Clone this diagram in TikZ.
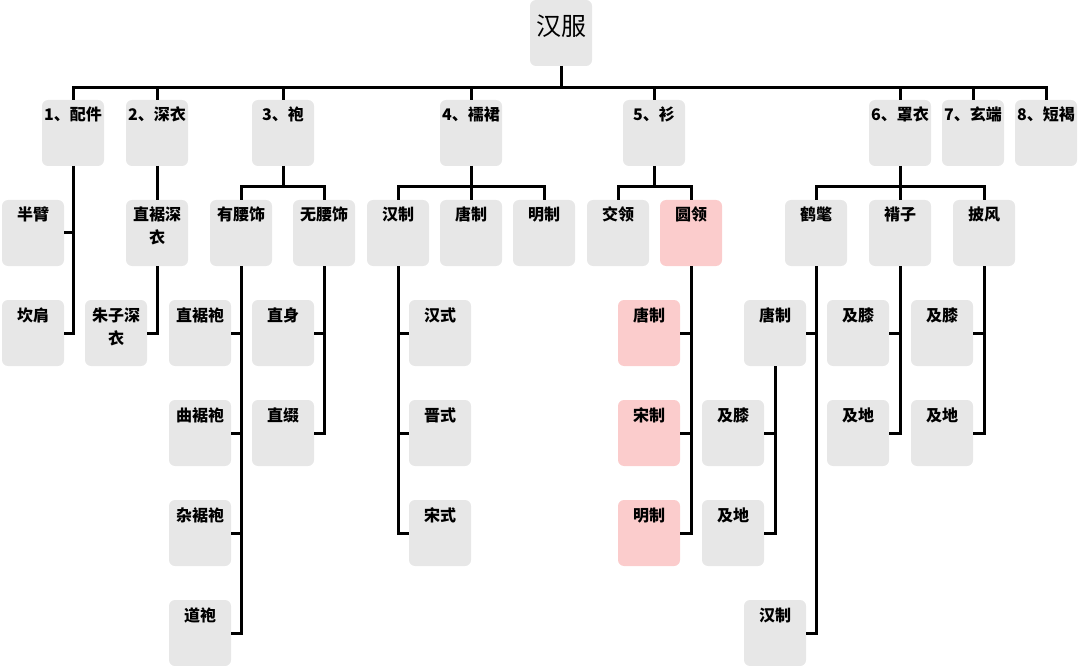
\documentclass[tikz,border=0pt]{standalone}
\usepackage{fontspec}
\setmainfont{Noto Sans CJK SC}
\definecolor{boxgray}{RGB}{231,231,231}
\definecolor{boxpink}{RGB}{251,204,204}
\newcommand\lblfont{\fontsize{16}{23}\selectfont\bfseries}
\newcommand\bx[5][]{\node[box,#1] (#2) at (#3,#4+33) {\parbox[c][66pt][t]{62pt}{\centering\rule{0pt}{21pt}#5}};}
\tikzset{
  box/.style={rectangle, rounded corners=6pt, fill=boxgray, inner sep=0pt, outer sep=0pt,
    minimum width=62pt, minimum height=66pt, font=\lblfont},
  pinkbox/.style={fill=boxpink},
  conn/.style={line width=3pt, line join=miter, draw=black}
}
\begin{document}
\begin{tikzpicture}[x=1pt,y=-1pt]
\useasboundingbox (0,0) rectangle (1080,666);
% root
\node[box, font=\fontsize{25}{30}\selectfont] (root) at (561,33) {\parbox[c][66pt][t]{62pt}{\centering\rule{0pt}{36pt}汉服}};
% level 1
\bx{p1}{73}{100}{1、配件}
\bx{p2}{157}{100}{2、深衣}
\bx{p3}{283}{100}{3、袍}
\bx{p4}{471}{100}{4、襦裙}
\bx{p5}{654}{100}{5、衫}
\bx{p6}{900}{100}{6、罩衣}
\bx{p7}{973}{100}{7、玄端}
\bx{p8}{1046}{100}{8、短褐}
% branch 1
\bx{a1}{33}{200}{半臂}
\bx{a2}{33}{300}{坎肩}
% branch 2
\bx{b1}{157}{200}{直裾深\\衣}
\bx{b2}{116}{300}{朱子深\\衣}
% branch 3
\bx{c1}{241}{200}{有腰饰}
\bx{c2}{324}{200}{无腰饰}
\bx{c11}{200}{300}{直裾袍}
\bx{c12}{200}{400}{曲裾袍}
\bx{c13}{200}{500}{杂裾袍}
\bx{c14}{200}{600}{道袍}
\bx{c21}{283}{300}{直身}
\bx{c22}{283}{400}{直缀}
% branch 4
\bx{d1}{398}{200}{汉制}
\bx{d2}{471}{200}{唐制}
\bx{d3}{544}{200}{明制}
\bx{d11}{440}{300}{汉式}
\bx{d12}{440}{400}{晋式}
\bx{d13}{440}{500}{宋式}
% branch 5
\bx{e1}{618}{200}{交领}
\bx[pinkbox]{e2}{691}{200}{圆领}
\bx[pinkbox]{e21}{649}{300}{唐制}
\bx[pinkbox]{e22}{649}{400}{宋制}
\bx[pinkbox]{e23}{649}{500}{明制}
% branch 6
\bx{f1}{816}{200}{鹤氅}
\bx{f2}{900}{200}{褙子}
\bx{f3}{984}{200}{披风}
\bx{f11}{775}{300}{唐制}
\bx{f12}{775}{600}{汉制}
\bx{f111}{733}{400}{及膝}
\bx{f112}{733}{500}{及地}
\bx{f21}{858}{300}{及膝}
\bx{f22}{858}{400}{及地}
\bx{f31}{942}{300}{及膝}
\bx{f32}{942}{400}{及地}
% buses
\coordinate (bus) at (561,88);
\coordinate (sub) at (0,187);
\draw[conn] (root.south) -- (root.south |- bus);
\draw[conn] (p1.north) -- (p1.north |- bus) -- (p8.north |- bus) -- (p8.north);
\foreach \n in {p2,p3,p4,p5,p6,p7} \draw[conn] (\n.north) -- (\n.north |- bus);
% branch 1
\draw[conn] (p1.south) -- (p1.south |- a2.east) -- (a2.east);
\draw[conn] (a1.east) -- (p1.south |- a1.east);
% branch 2
\draw[conn] (p2.south) -- (b1.north);
\draw[conn] (b1.south) -- (b1.south |- b2.east) -- (b2.east);
% branch 3
\draw[conn] (p3.south) -- (p3.south |- sub);
\draw[conn] (c1.north) -- (c1.north |- sub) -- (c2.north |- sub) -- (c2.north);
\draw[conn] (c1.south) -- (c1.south |- c14.east) -- (c14.east);
\foreach \n in {c11,c12,c13} \draw[conn] (\n.east) -- (c1.south |- \n.east);
\draw[conn] (c2.south) -- (c2.south |- c22.east) -- (c22.east);
\draw[conn] (c21.east) -- (c2.south |- c21.east);
% branch 4
\draw[conn] (p4.south) -- (d2.north);
\draw[conn] (d1.north) -- (d1.north |- sub) -- (d3.north |- sub) -- (d3.north);
\draw[conn] (d1.south) -- (d1.south |- d13.west) -- (d13.west);
\foreach \n in {d11,d12} \draw[conn] (\n.west) -- (d1.south |- \n.west);
% branch 5
\draw[conn] (p5.south) -- (p5.south |- sub);
\draw[conn] (e1.north) -- (e1.north |- sub) -- (e2.north |- sub) -- (e2.north);
\draw[conn] (e2.south) -- (e2.south |- e23.east) -- (e23.east);
\foreach \n in {e21,e22} \draw[conn] (\n.east) -- (e2.south |- \n.east);
% branch 6
\draw[conn] (p6.south) -- (f2.north);
\draw[conn] (f1.north) -- (f1.north |- sub) -- (f3.north |- sub) -- (f3.north);
\draw[conn] (f1.south) -- (f1.south |- f12.east) -- (f12.east);
\draw[conn] (f11.east) -- (f1.south |- f11.east);
\draw[conn] (f11.south) -- (f11.south |- f112.east) -- (f112.east);
\draw[conn] (f111.east) -- (f11.south |- f111.east);
\draw[conn] (f2.south) -- (f2.south |- f22.east) -- (f22.east);
\draw[conn] (f21.east) -- (f2.south |- f21.east);
\draw[conn] (f3.south) -- (f3.south |- f32.east) -- (f32.east);
\draw[conn] (f31.east) -- (f3.south |- f31.east);
\end{tikzpicture}
\end{document}
